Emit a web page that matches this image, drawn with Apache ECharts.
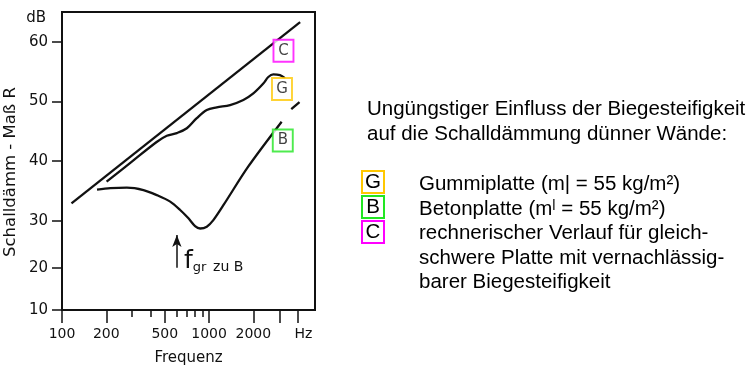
<!DOCTYPE html>
<html><head><meta charset="utf-8">
<script src="https://cdn.jsdelivr.net/npm/echarts@6/dist/echarts.min.js"></script>
<style>html,body{margin:0;padding:0;background:#fff}#c{width:754px;height:372px}</style>
</head><body><div id="c"></div>
<script>
// ---- data (frequency in Hz, sound reduction index R in dB) ----
const lineC = [[116, 32.9], [4160, 63.3]];
const lineG = [[201, 36.55], [300, 39.95], [440, 43.2], [516, 44.25], [604, 44.7], [706, 45.5], [825, 47.2], [965, 48.55], [1128, 49.0], [1389, 49.4], [1710, 50.25], [2000, 51.35], [2337, 53.0], [2527, 54.1], [2732, 54.55], [3034, 54.4], [3281, 53.9]];
const lineB = [[173, 35.2], [213, 35.45], [276, 35.55], [358, 35.15], [441, 34.3], [544, 33.2], [636, 31.8], [724, 30.4], [803, 29.1], [869, 28.7], [965, 29.0], [1069, 30.1], [1251, 32.6], [1849, 39.1], [3115, 46.6], [3350, null], [3620, 48.7], [4120, 49.9]];
const curveTags = ['C', 'G', 'B'];
const tagPos = [[3205, 58.5], [3131, 52.1], [3170, 43.45]];
const tagColors = ['#FF00FF', '#FFC800', '#22E622'];
const fgrB = 604;           // critical frequency marker for B
const fgrArrow = [20, 27.6];
const xMajorTicks = [100, 200, 500, 1000, 2000, 3000, 4000];
const xMinorTicks = [300, 400, 600, 700, 800, 900];
const xLabels = [100, 200, 500, 1000, 2000];
const xUnitAt = 4380;
const yTicks = [10, 20, 30, 40, 50, 60];
const yUnitAt = 65;
const legendLetters = ['G', 'B', 'C'];
const legendColors = ['#FFC800', '#22E622', '#FF00FF'];
const legendText = ['Gummiplatte (m| = 55 kg/m²)', 'Betonplatte (mˡ = 55 kg/m²)', 'rechnerischer Verlauf für gleich-', 'schwere Platte mit vernachlässig-', 'barer Biegesteifigkeit'];
const titleText = ['Ungüngstiger Einfluss der Biegesteifigkeit', 'auf die Schalldämmung dünner Wände:'];

const chart = echarts.init(document.getElementById('c'), null, {renderer: 'canvas'});
const ink = '#111';
const sf = 'DejaVu Sans';
const af = 'Liberation Sans, Arial, sans-serif';

const lineStyle = {color: ink, width: 2.3};
const series = [
  {type: 'line', data: lineC, showSymbol: false, lineStyle, silent: true, z: 3},
  {type: 'line', data: lineG, showSymbol: false, smooth: 0.35, lineStyle, silent: true, z: 3},
  {type: 'line', data: lineB, showSymbol: false, smooth: 0.3, connectNulls: false, lineStyle, silent: true, z: 3,
   markLine: {silent: true, symbol: ['none', 'arrow'], symbolSize: [7, 12], label: {show: false},
     lineStyle: {color: ink, width: 1.5, type: 'solid'},
     data: [[{coord: [fgrB, fgrArrow[0]]}, {coord: [fgrB, fgrArrow[1]]}]]}},
  {type: 'scatter', silent: true, z: 5,
   data: tagPos.map((p, i) => ({value: p, itemStyle: {color: '#fff', borderColor: tagColors[i], borderWidth: 2},
     label: {show: true, position: 'inside', formatter: curveTags[i], color: ink, fontSize: 15, fontFamily: sf}})),
   symbol: 'rect', symbolSize: [20, 22]}
];

const graphic = [
  {type: 'text', x: 11, y: 172, rotation: Math.PI / 2,
   style: {text: 'Schalldämm - Maß R', font: '16.5px "DejaVu Sans"', fill: ink, align: 'center', verticalAlign: 'middle'}},
  {type: 'text', x: 184, y: 274,
   style: {text: '{f|f}{s|gr}  {n|zu B}', fill: ink, verticalAlign: 'bottom', align: 'left',
     rich: {f: {fontSize: 25, fontFamily: sf, fill: ink, verticalAlign: 'bottom', lineHeight: 26},
            s: {fontSize: 13, fontFamily: sf, fill: ink, verticalAlign: 'bottom', lineHeight: 16},
            n: {fontSize: 14, fontFamily: sf, fill: ink, verticalAlign: 'bottom', lineHeight: 17}}}},
  {type: 'text', x: 367, y: 97,
   style: {text: titleText.join('\n'), font: '20.5px ' + af, fill: '#000', lineHeight: 25, verticalAlign: 'top', align: 'left'}},
  {type: 'text', x: 419, y: 172.5,
   style: {text: legendText.join('\n'), font: '20.5px ' + af, fill: '#000', lineHeight: 24.5, verticalAlign: 'top', align: 'left'}}
];
const boxTops = [171, 196, 221];
legendLetters.forEach((l, i) => {
  graphic.push({type: 'rect', shape: {x: 362, y: boxTops[i], width: 22, height: 22}, style: {fill: '#fff', stroke: legendColors[i], lineWidth: 2}});
  graphic.push({type: 'text', x: 373, y: boxTops[i] + 11.5, style: {text: l, font: '20.5px ' + af, fill: '#000', align: 'center', verticalAlign: 'middle'}});
});

chart.setOption({
  animation: false,
  backgroundColor: '#fff',
  grid: {left: 62, right: 439, top: 12, bottom: 62, show: true, borderColor: ink, borderWidth: 2, outerBoundsMode: 'none'},
  xAxis: [{
    type: 'log', logBase: 10, min: 100, max: 5250,
    axisLine: {show: true, lineStyle: {color: ink, width: 2}},
    axisTick: {show: true, customValues: xMajorTicks, length: 13, lineStyle: {color: ink, width: 1.5}},
    axisLabel: {customValues: xLabels.concat([xUnitAt]), formatter: v => (v > 4100 ? 'Hz' : String(Math.round(v))),
      margin: 17, fontSize: 14, fontFamily: sf, color: ink},
    splitLine: {show: false}, minorTick: {show: false},
    name: 'Frequenz', nameLocation: 'middle', nameGap: 41, nameTextStyle: {fontSize: 15, fontFamily: sf, color: ink}
  }, {
    type: 'log', logBase: 10, min: 100, max: 5250, position: 'bottom', gridIndex: 0,
    axisLine: {show: false}, axisTick: {show: true, customValues: xMinorTicks, length: 7, lineStyle: {color: ink, width: 1.5}},
    axisLabel: {show: false}, splitLine: {show: false}
  }],
  yAxis: {
    type: 'value', min: 10, max: 65,
    breaks: [{start: 13, end: 15.9, gap: 0}, {start: 23, end: 25.13, gap: 0}],
    breakArea: {show: false},
    axisLine: {show: true, lineStyle: {color: ink, width: 2}},
    axisTick: {show: true, customValues: yTicks, length: 10, lineStyle: {color: ink, width: 1.5}},
    axisLabel: {customValues: yTicks.concat([yUnitAt]), formatter: v => (v > 62 ? '{u|dB}' : String(Math.round(v))),
      margin: 14, fontSize: 15, fontFamily: sf, color: ink,
      rich: {u: {fontSize: 15, fontFamily: sf, color: ink, padding: [12, 2, 0, 0]}}},
    splitLine: {show: false}
  },
  series,
  graphic
});
</script></body></html>
